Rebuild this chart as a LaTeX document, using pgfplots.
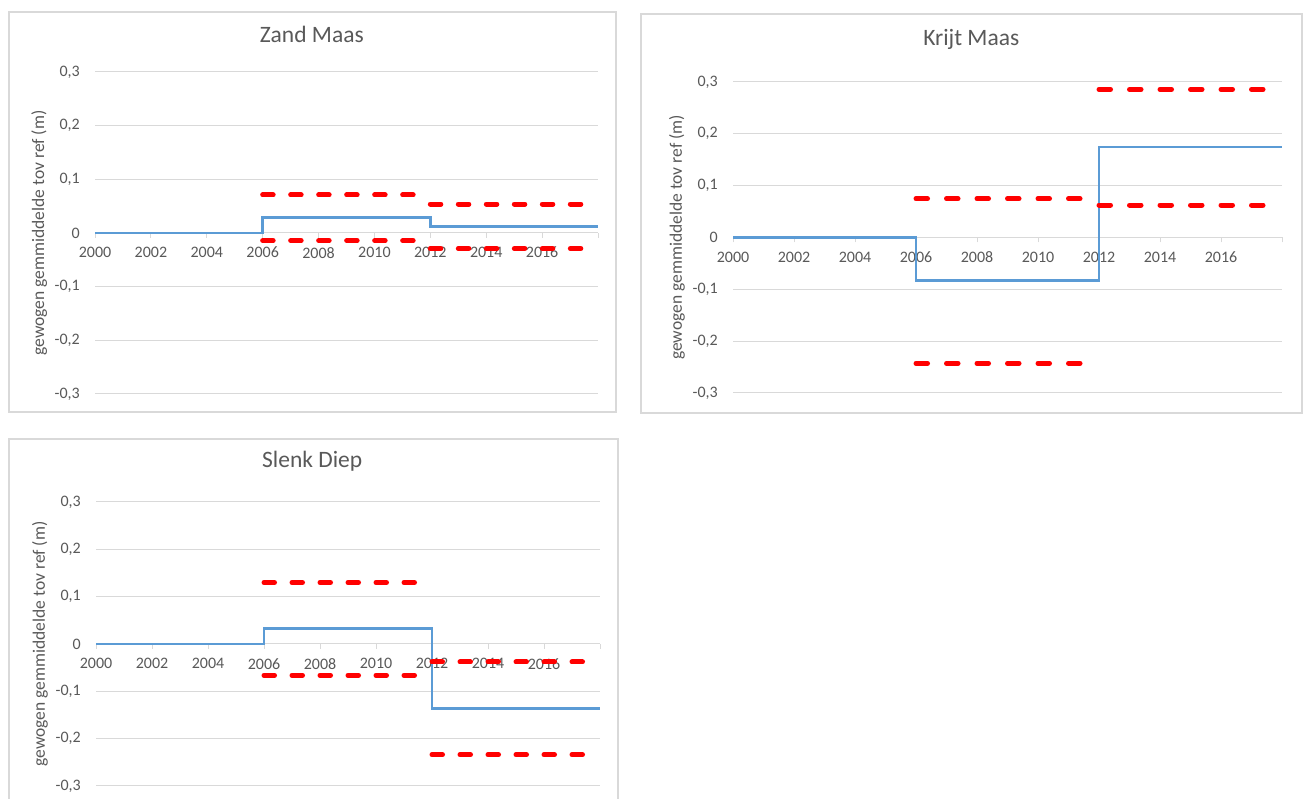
\documentclass[border=0pt]{standalone}
\usepackage{fontspec}
\setmainfont{Carlito}
\usepackage{pgfplots}
\pgfplotsset{compat=1.18}
\definecolor{gridgray}{HTML}{D9D9D9}
\definecolor{framegray}{HTML}{D9D9D9}
\definecolor{txtgray}{HTML}{595959}
\definecolor{xlblue}{HTML}{5B9BD5}
\definecolor{xlred}{HTML}{FF0000}
\pgfplotsset{
  panel/.style={
    scale only axis,
    xmin=2000, xmax=2018, ymin=-0.3, ymax=0.3,
    axis x line=middle, axis y line=left,
    hide obscured x ticks=false, hide obscured y ticks=false,
    x axis line style={-, draw=gridgray, line width=1pt},
    y axis line style={draw=none},
    xtick={2000,2002,2004,2006,2008,2010,2012,2014,2016,2018},
    xticklabels={2000,2002,2004,2006,2008,2010,2012,2014,2016,{}},
    ytick={-0.3,-0.2,-0.1,0,0.1,0.2,0.3},
    yticklabels={{-0,3},{-0,2},{-0,1},0,{0,1},{0,2},{0,3}},
    ymajorgrids, grid style={gridgray, line width=1pt},
    tick align=outside, major tick length=5pt,
    x tick style={gridgray, line width=1pt},
    y tick style={draw=none},
    tick label style={font=\fontsize{16}{19}\selectfont, text=txtgray},
    xticklabel style={anchor=north, inner sep=0pt, yshift=-9pt},
    yticklabel style={anchor=east, inner sep=0pt, xshift=-10pt},
    ylabel={gewogen gemmiddelde tov ref (m)},
    every axis y label/.style={rotate=90, anchor=center, font=\fontsize{17.5}{21}\selectfont, text=txtgray},
    title style={font=\fontsize{23.5}{28}\selectfont, text=txtgray, anchor=center},
    clip=false,
  },
  blueline/.style={xlblue, line width=2.8pt, line join=miter, mark=none},
  redA/.style={xlred, line width=5pt, line cap=round, mark=none, dash pattern=on 10.5pt off 17.5pt},
  redB/.style={xlred, line width=5pt, line cap=round, mark=none, dash pattern=on 11.5pt off 19pt},
}
\begin{document}
\begin{tikzpicture}
\useasboundingbox (0pt,0pt) rectangle (1303pt,799pt);
\fill[white] (0pt,0pt) rectangle (1303pt,799pt);
\begin{scope}
\clip (0pt,0pt) rectangle (1303pt,799pt);
\draw[framegray, line width=1.5pt] (9pt,387pt) rectangle (616pt,787pt);
\draw[framegray, line width=1.5pt] (641pt,386pt) rectangle (1302pt,785pt);
\draw[framegray, line width=1.5pt] (9pt,-21pt) rectangle (618pt,360pt);
\end{scope}

% Zand Maas
\begin{axis}[panel, at={(95pt,405pt)}, anchor=south west, width=503pt, height=322pt,
  title={Zand Maas}, title style={at={(axis description cs:0.431,1.099)}},
  ylabel style={at={(axis description cs:-0.111,0.5)}}]
\addplot[blueline] coordinates {(2000,0) (2006,0) (2006,0.0285) (2012,0.0285) (2012,0.0124) (2018,0.0124)};
\addplot[redA] coordinates {(2006,0.0708) (2012,0.0708)};
\addplot[redA] coordinates {(2006,-0.0143) (2012,-0.0143)};
\addplot[redA] coordinates {(2012,0.054) (2018,0.054)};
\addplot[redA] coordinates {(2012,-0.029) (2018,-0.029)};
\end{axis}

% Krijt Maas
\begin{axis}[panel, at={(733pt,406pt)}, anchor=south west, width=549pt, height=311pt,
  title={Krijt Maas}, title style={at={(axis description cs:0.434,1.119)}},
  ylabel style={at={(axis description cs:-0.102,0.5)}}]
\addplot[blueline] coordinates {(2000,0) (2006,0) (2006,-0.0826) (2012,-0.0826) (2012,0.1747) (2018,0.1747)};
\addplot[redB] coordinates {(2006,0.0747) (2012,0.0747)};
\addplot[redB] coordinates {(2006,-0.2426) (2012,-0.2426)};
\addplot[redB] coordinates {(2012,0.2856) (2018,0.2856)};
\addplot[redB] coordinates {(2012,0.0625) (2018,0.0625)};
\end{axis}

% Slenk Diep
\begin{axis}[panel, at={(96pt,13pt)}, anchor=south west, width=504pt, height=284pt,
  title={Slenk Diep}, title style={at={(axis description cs:0.429,1.123)}},
  ylabel style={at={(axis description cs:-0.111,0.5)}}]
\addplot[blueline] coordinates {(2000,0) (2006,0) (2006,0.032) (2012,0.032) (2012,-0.136) (2018,-0.136)};
\addplot[redA] coordinates {(2006,0.130) (2012,0.130)};
\addplot[redA] coordinates {(2006,-0.066) (2012,-0.066)};
\addplot[redA] coordinates {(2012,-0.038) (2018,-0.038)};
\addplot[redA] coordinates {(2012,-0.234) (2018,-0.234)};
\end{axis}
\end{tikzpicture}
\end{document}
